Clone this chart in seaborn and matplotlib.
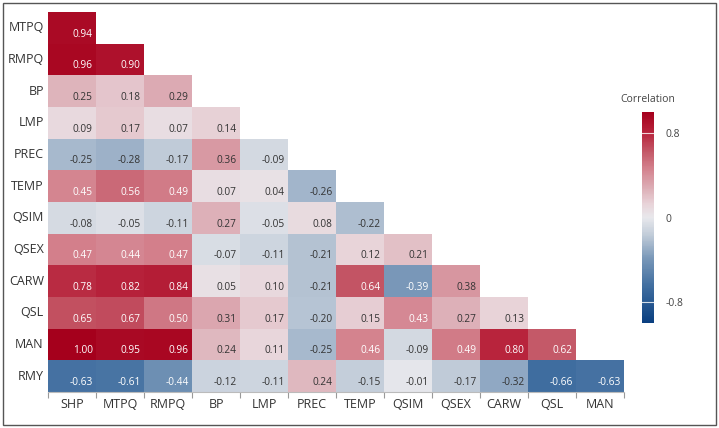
import matplotlib
matplotlib.use('Agg')
import matplotlib.pyplot as plt
from matplotlib.colors import LinearSegmentedColormap
from matplotlib.patches import Rectangle
import numpy as np
import pandas as pd
import seaborn as sns

row_labels = ['MTPQ', 'RMPQ', 'BP', 'LMP', 'PREC', 'TEMP', 'QSIM', 'QSEX', 'CARW', 'QSL', 'MAN', 'RMY']
col_labels = ['SHP', 'MTPQ', 'RMPQ', 'BP', 'LMP', 'PREC', 'TEMP', 'QSIM', 'QSEX', 'CARW', 'QSL', 'MAN']

# lower triangle, one list per row
corr_rows = [
    [0.94],
    [0.96, 0.90],
    [0.25, 0.18, 0.29],
    [0.09, 0.17, 0.07, 0.14],
    [-0.25, -0.28, -0.17, 0.36, -0.09],
    [0.45, 0.56, 0.49, 0.07, 0.04, -0.26],
    [-0.08, -0.05, -0.11, 0.27, -0.05, 0.08, -0.22],
    [0.47, 0.44, 0.47, -0.07, -0.11, -0.21, 0.12, 0.21],
    [0.78, 0.82, 0.84, 0.05, 0.10, -0.21, 0.64, -0.39, 0.38],
    [0.65, 0.67, 0.50, 0.31, 0.17, -0.20, 0.15, 0.43, 0.27, 0.13],
    [1.00, 0.95, 0.96, 0.24, 0.11, -0.25, 0.46, -0.09, 0.49, 0.80, 0.62],
    [-0.63, -0.61, -0.44, -0.12, -0.11, 0.24, -0.15, -0.01, -0.17, -0.32, -0.66, -0.63],
]

mat = np.full((len(row_labels), len(col_labels)), np.nan)
for i, r in enumerate(corr_rows):
    mat[i, :len(r)] = r
df = pd.DataFrame(mat, index=row_labels, columns=col_labels)

cmap = LinearSegmentedColormap.from_list('corr', [
    (0.00, '#0a3f80'),
    (0.17, '#3f6d9f'),
    (0.305, '#7897b8'),
    (0.415, '#c0cbd8'),
    (0.50, '#e8e8ec'),
    (0.565, '#e8d3d8'),
    (0.635, '#ddb0b8'),
    (0.735, '#d3808c'),
    (0.81, '#c45a69'),
    (0.90, '#b8253d'),
    (1.00, '#a5001c'),
])

plt.rcParams['font.family'] = ['Open Sans', 'DejaVu Sans']

fig = plt.figure(figsize=(7.19, 4.28), dpi=100)
ax = fig.add_axes([48 / 719, 36 / 428, 576 / 719, 380 / 428])
cax = fig.add_axes([642 / 719, 105 / 428, 12 / 719, 211 / 428])

sns.heatmap(df, ax=ax, cmap=cmap, vmin=-1, vmax=1, cbar_ax=cax,
            linewidths=0, square=False)

# value labels sit low and right in each cell
for i, r in enumerate(corr_rows):
    for j, v in enumerate(r):
        color = 'white' if abs(v) > 0.385 else '#333333'
        ax.text(j + 0.93, i + 0.7, f'{v:.2f}', ha='right', va='center',
                fontsize=7.3, color=color)

ax.set_xlabel('')
ax.set_ylabel('')
ax.set_xticks(np.arange(len(col_labels)) + 0.5)
ax.set_xticklabels(col_labels, rotation=0, fontsize=9, color='#333333')
ax.set_yticks(np.arange(len(row_labels)) + 0.5)
ax.set_yticklabels(row_labels, rotation=0, fontsize=9, color='#333333')
ax.tick_params(axis='y', which='major', length=0, pad=3)
ax.tick_params(axis='x', which='major', length=0, pad=4)
ax.set_xticks(np.arange(len(col_labels) + 1), minor=True)
ax.tick_params(axis='x', which='minor', length=4, color='#999999', width=0.8)
ax.spines['bottom'].set_visible(True)
ax.spines['bottom'].set_color('#bbbbbb')
ax.spines['bottom'].set_linewidth(0.8)

# colorbar styling
cax.set_yticks([-0.8, 0, 0.8])
cax.set_yticklabels(['-0.8', '0', '0.8'], fontsize=7.5, color='#444444')
cax.tick_params(length=0, pad=8)
for t in [-0.8, 0.8]:
    cax.axhline(t, color='white', lw=0.8, alpha=0.8)
for s in cax.spines.values():
    s.set_visible(False)
fig.text(648 / 719, 1 - 100 / 428, 'Correlation', ha='center', va='center',
         fontsize=7.5, color='#444444')

fig.patches.append(Rectangle((3 / 719, 3 / 428), 713 / 719, 422 / 428,
                             transform=fig.transFigure, fill=False,
                             edgecolor='#555555', lw=1))

fig.savefig('out.png', dpi=100)
